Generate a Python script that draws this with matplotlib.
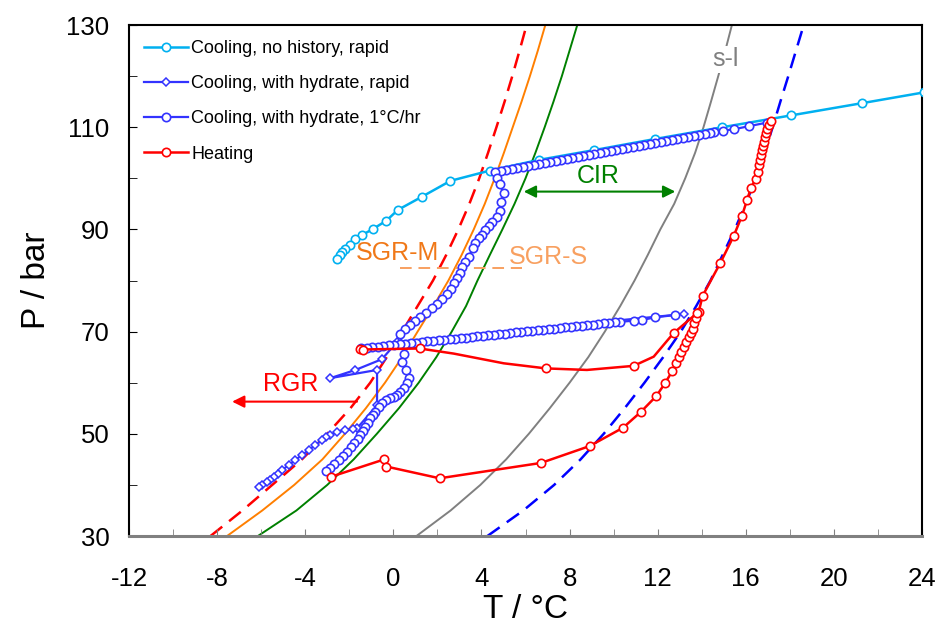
import matplotlib
matplotlib.use("Agg")
import matplotlib.pyplot as plt

plt.rcParams['font.family'] = ['Liberation Sans', 'DejaVu Sans']
plt.rcParams['axes.unicode_minus'] = False

# ---- phase boundaries (T in degC at the pressure levels below) ----
P_grid = [30, 35, 40, 45, 50, 55, 60, 65, 70, 75, 80, 85, 90, 95, 100, 105, 110, 115, 120, 125, 130]

rgr_T = [-8.3, -6.85, -5.5, -4.15, -3.0, -1.95, -1.05, -0.3, 0.4, 1.1, 1.8, 2.4, 2.95, 3.45,
         3.9, 4.3, 4.68, 5.05, 5.4, 5.73, 6.05]
sgrm_T = [-7.55, -5.95, -4.5, -3.22, -2.2, -1.25, -0.38, 0.4, 1.1, 1.82, 2.5, 3.1, 3.65, 4.15,
          4.6, 5.02, 5.42, 5.82, 6.2, 6.56, 6.9]
cir_T = [-6.15, -4.4, -3.0, -1.8, -0.75, 0.25, 1.15, 1.95, 2.65, 3.3, 3.82, 4.38, 4.95, 5.5,
         6.0, 6.45, 6.87, 7.27, 7.65, 8.0, 8.35]
sl_T = [1.05, 2.6, 3.95, 5.12, 6.15, 7.1, 8.0, 8.85, 9.6, 10.3, 10.95, 11.55, 12.12, 12.75,
        13.25, 13.7, 14.08, 14.42, 14.75, 15.07, 15.37]
bl_T = [4.27, 5.9, 7.3, 8.5, 9.55, 10.5, 11.4, 12.25, 13.05, 13.75, 14.4, 14.95, 15.5, 16.0,
        16.45, 16.85, 17.22, 17.57, 17.93, 18.28, 18.63]

# SGR-M -> SGR-S guide
sgr_line_T = [0.32, 5.86]
sgr_line_P = [82.4, 82.4]

# ---- Cooling, no history, rapid ----
cool_nh_T = [24.07, 21.27, 18.04, 14.94, 11.89, 9.09, 6.60, 4.37, 2.59, 1.30, 0.20, -0.32,
             -0.92, -1.42, -1.72, -1.98, -2.18, -2.33, -2.44, -2.56]
cool_nh_P = [116.8, 114.7, 112.3, 110.0, 107.7, 105.5, 103.6, 101.5, 99.5, 96.4, 93.8, 91.7,
             90.1, 88.9, 88.1, 86.9, 86.1, 85.6, 84.9, 84.3]

# ---- Cooling, with hydrate, rapid (diamonds) ----
cool_rap_T = [13.18, 0.17, -0.52, -1.72, -2.86, -0.74, -0.74, -1.65, -1.85, -2.18, -2.56, -2.86,
              -3.05, -3.24, -3.54, -3.84, -4.15, -4.45, -4.75, -5.05, -5.25, -5.43, -5.6, -5.73,
              -5.96, -6.11]
cool_rap_P = [73.44, 68.0, 64.6, 62.5, 60.9, 62.5, 55.6, 51.08, 50.9, 50.74, 50.41, 49.77,
              49.3, 48.79, 47.81, 46.83, 45.85, 44.87, 43.89, 42.92, 42.2, 41.6, 41.0, 40.63,
              39.98, 39.65]

# ---- Cooling, with hydrate, 1 degC/hr : run A (from 111 bar) ----
hr_a_T = [16.95, 16.15, 15.45, 14.96, 14.54, 14.38, 14.13, 13.88, 13.63, 13.38, 13.13, 12.88,
          12.63, 12.38, 12.13, 11.88, 11.63, 11.38, 11.13, 10.88, 10.63, 10.38, 10.13, 9.88,
          9.63, 9.38, 9.13, 8.88, 8.63, 8.38, 8.13, 7.88, 7.63, 7.38, 7.13, 6.88, 6.63, 6.38,
          6.13, 5.88, 5.63, 5.38, 5.13, 4.88, 4.63,
          4.71, 4.83, 5.01, 4.89, 4.83, 4.71, 4.48, 4.33, 4.18, 4.03, 3.87, 3.72, 3.62, 3.42,
          3.27, 3.12, 3.01, 2.89, 2.77, 2.62, 2.44, 2.21, 1.98, 1.76, 1.50, 1.23, 1.00, 0.77,
          0.54, 0.32, 0.47, 0.39, 0.59, 0.70, 0.62, 0.47, 0.32, 0.17, 0.01, -0.17, -0.32, -0.51,
          -0.67, -0.82, -0.92, -1.04, -1.17, -1.27, -1.38, -1.50, -1.62, -1.77, -1.92, -2.10,
          -2.28, -2.48, -2.68, -2.86, -3.04]
hr_a_P = [110.9, 110.2, 109.6, 109.3, 109.0, 108.81, 108.61, 108.42, 108.22, 108.03, 107.83, 107.64,
          107.44, 107.25, 107.05, 106.86, 106.66, 106.47, 106.27, 106.08, 105.88, 105.69, 105.49, 105.30,
          105.10, 104.91, 104.71, 104.52, 104.32, 104.13, 103.93, 103.74, 103.54, 103.35, 103.15, 102.96,
          102.76, 102.57, 102.37, 102.18, 101.98, 101.79, 101.59, 101.40, 101.20,
          100.0, 98.83, 97.06, 95.42, 93.66, 92.49, 91.51, 90.67, 89.88, 88.90, 88.26, 87.28, 86.30, 84.66,
          83.68, 82.70, 81.41, 80.43, 79.45, 78.28, 77.36, 76.32, 75.40, 74.56, 73.70, 72.92, 72.13, 71.29,
          70.45, 69.47, 65.7, 64.1, 62.5, 60.86, 59.88, 58.90, 58.24, 57.59, 57.26, 56.94, 56.61, 55.97,
          55.31, 54.33, 53.68, 53.03, 52.17, 51.39, 50.61, 49.77, 48.92, 48.14, 47.36, 46.50,
          45.66, 44.87, 44.09, 43.37, 42.72]

# run B (from 73 bar)
hr_b_T = [12.80, 11.89, 11.29, 10.91, 10.30, 10.05, 9.80, 9.55, 9.30, 9.05, 8.80, 8.55, 8.30,
          8.05, 7.80, 7.55, 7.30, 7.05, 6.80, 6.55, 6.30, 6.05, 5.80, 5.55, 5.30, 5.05, 4.80,
          4.55, 4.30, 4.05, 3.80, 3.55, 3.30, 3.05, 2.80, 2.55, 2.30, 2.05, 1.80, 1.55, 1.30,
          1.05, 0.80, 0.55, 0.30, 0.05, -0.20, -0.45, -0.70, -0.95, -1.20, -1.45]
hr_b_P = [73.25, 72.80, 72.27, 72.14, 71.92, 71.81, 71.70, 71.59, 71.48, 71.37, 71.26, 71.15, 71.04,
          70.93, 70.82, 70.71, 70.60, 70.49, 70.38, 70.27, 70.16, 70.05, 69.94, 69.83, 69.72, 69.61, 69.50,
          69.39, 69.28, 69.17, 69.06, 68.95, 68.84, 68.73, 68.62, 68.51, 68.40, 68.29, 68.18, 68.07, 67.96,
          67.85, 67.74, 67.63, 67.52, 67.41, 67.30, 67.19, 67.08, 66.97, 66.86, 66.75]

# ---- Heating : run 1 (from 42 bar) ----
heat1_T = [-2.83, -0.41, -0.32, 2.10, 6.70, 8.91, 10.43, 11.24, 11.94, 12.35, 12.65, 12.83,
           12.95, 13.06, 13.18, 13.30, 13.40, 13.51, 13.60, 13.66, 13.72, 13.86, 14.04, 14.84,
           15.45, 15.83, 16.06, 16.24, 16.45, 16.55, 16.61, 16.66, 16.70, 16.74, 16.78, 16.81,
           16.86, 16.90, 16.96, 17.04, 17.14]
heat1_P = [41.6, 45.0, 43.6, 41.3, 44.3, 47.6, 51.2, 54.3, 57.4, 60.0, 62.2, 63.8,
           65.1, 66.1, 67.0, 68.0, 68.9, 69.7, 70.6, 71.6, 72.6, 73.8, 77.0, 83.4,
           88.7, 92.7, 95.8, 98.2, 99.9, 101.3, 102.6, 103.6, 104.6, 105.5, 106.3, 107.2,
           108.0, 108.8, 109.6, 110.4, 111.3]

# run 2 (from 67 bar); path points, circles only at the measured ones
heat2_T = [-1.50, -1.39, 1.19, 2.74, 5.01, 6.93, 8.79, 10.91, 11.82, 12.72, 13.78]
heat2_P = [66.6, 66.5, 66.7, 65.7, 63.8, 62.8, 62.5, 63.3, 65.1, 69.7, 73.6]
heat2_marks = [0, 1, 2, 5, 7, 9, 10]

cyan = '#00B0F0'
blue = '#3333FF'
red = '#FF0000'

fig = plt.figure(figsize=(9.39, 6.33), dpi=100)
ax = fig.add_axes([0.1374, 0.1532, 0.8445, 0.8073])

# phase boundaries
ax.plot(rgr_T, P_grid, color=red, lw=1.8, dashes=(6, 3.5), zorder=1)
ax.plot(sgrm_T, P_grid, color='#FF7F00', lw=1.4, zorder=1)
ax.plot(cir_T, P_grid, color='#008000', lw=1.4, zorder=1)
ax.plot(sl_T, P_grid, color='#808080', lw=1.4, zorder=1)
ax.plot(bl_T, P_grid, color='#0000FF', lw=1.8, dashes=(6, 3.5), zorder=1)
ax.plot(sgr_line_T, sgr_line_P, color='#F8A060', lw=1.4, dashes=(6, 3.5), zorder=1)

mk = dict(marker='o', ms=6, mfc='white', mew=1.2)
ax.plot(cool_nh_T, cool_nh_P, color=cyan, lw=1.8, label='Cooling, no history, rapid', zorder=3, **mk)
ax.plot(cool_rap_T, cool_rap_P, color=blue, lw=1.6, marker='D', ms=4, mfc='white', mew=1.1,
        label='Cooling, with hydrate, rapid', zorder=4)
ax.plot(hr_a_T, hr_a_P, color=blue, lw=1.6, label='Cooling, with hydrate, 1\u00b0C/hr', zorder=4, **mk)
ax.plot(hr_b_T, hr_b_P, color=blue, lw=1.6, zorder=4, **mk)
ax.plot(heat1_T, heat1_P, color=red, lw=1.8, label='Heating', zorder=5, **mk)
ax.plot(heat2_T, heat2_P, color=red, lw=1.8, markevery=heat2_marks, zorder=5, **mk)

# annotations
ax.text(0.2, 85.3, 'SGR-M', color='#F07818', fontsize=18, ha='center', va='center')
ax.text(7.05, 84.6, 'SGR-S', color='#F8A060', fontsize=18, ha='center', va='center')
ax.text(9.3, 100.4, 'CIR', color='#008000', fontsize=18, ha='center', va='center')
ax.text(-4.65, 59.7, 'RGR', color=red, fontsize=18, ha='center', va='center')
ax.text(15.1, 123.3, 's-l', color='#808080', fontsize=18, ha='center', va='center',
        bbox=dict(facecolor='white', edgecolor='none', pad=1))
ax.annotate('', xy=(5.92, 97.4), xytext=(12.8, 97.4),
            arrowprops=dict(arrowstyle='<|-|>', color='#008000', lw=1.5, mutation_scale=18,
                            shrinkA=0, shrinkB=0))
ax.annotate('', xy=(-7.32, 56.3), xytext=(-1.65, 56.3),
            arrowprops=dict(arrowstyle='-|>', color=red, lw=1.5, mutation_scale=18,
                            shrinkA=0, shrinkB=0))

ax.set_xlim(-12, 24)
ax.set_ylim(30, 130)
ax.set_xticks(range(-12, 25, 4))
ax.set_xticks(range(-12, 25, 2), minor=True)
ax.set_yticks(range(30, 131, 20))
ax.set_yticks(range(30, 131, 10), minor=True)
ax.tick_params(axis='both', which='both', direction='in', labelsize=18.5)
ax.tick_params(axis='x', which='both', length=5, color='#808080', pad=22)
ax.tick_params(axis='y', which='both', length=6, pad=14)
for s in ['left', 'top', 'right']:
    ax.spines[s].set_linewidth(1.5)
ax.spines['bottom'].set_color('#808080')
ax.spines['bottom'].set_linewidth(2.2)

ax.set_xlabel('T / \u00b0C', fontsize=24)
ax.set_ylabel('P / bar', fontsize=24)
ax.xaxis.set_label_coords(0.5, -0.114)
ax.yaxis.set_label_coords(-0.097, 0.5)

ax.legend(loc='upper left', frameon=False, fontsize=13, handlelength=2.4, handletextpad=0.2,
          labelspacing=1.0, borderaxespad=0.45)

fig.savefig('out.png', dpi=100)
